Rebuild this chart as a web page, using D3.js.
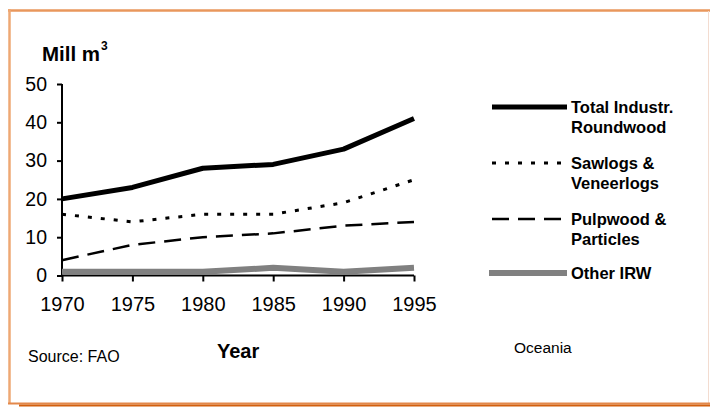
<!DOCTYPE html>
<html>
<head>
<meta charset="utf-8">
<script src="https://cdn.jsdelivr.net/npm/d3@7"></script>
<style>
  html, body { margin: 0; padding: 0; background: #fff; }
  svg { display: block; font-family: "Liberation Sans", Arial, sans-serif; }
</style>
</head>
<body>
<svg id="chart" width="710" height="407"></svg>
<script>
// ---- data ----
const years = [1970, 1975, 1980, 1985, 1990, 1995];
const totalIndustrial = [20, 23, 28, 29, 33, 41];
const sawlogs = [16, 14, 16, 16, 19, 25];
const pulpwood = [4, 8, 10, 11, 13, 14];
const otherIRW = [1, 1, 1, 2, 1, 2];
const yTicks = [0, 10, 20, 30, 40, 50];
const seriesNames = [["Total Industr.", "Roundwood"], ["Sawlogs &", "Veneerlogs"], ["Pulpwood &", "Particles"], ["Other IRW"]];

const svg = d3.select("#chart");

// frame
svg.append("rect").attr("x", 9).attr("y", 10).attr("width", 699).attr("height", 393)
  .attr("fill", "#fff").attr("stroke", "none");
svg.append("line").attr("x1", 8).attr("x2", 710).attr("y1", 10.5).attr("y2", 10.5)
  .attr("stroke", "#e9975c").attr("stroke-width", 2.5);
svg.append("line").attr("x1", 9.5).attr("x2", 9.5).attr("y1", 9).attr("y2", 404)
  .attr("stroke", "#eea874").attr("stroke-width", 2.5);
svg.append("line").attr("x1", 708.5).attr("x2", 708.5).attr("y1", 11).attr("y2", 404)
  .attr("stroke", "#f3dcd0").attr("stroke-width", 1);
svg.append("line").attr("x1", 8).attr("x2", 710).attr("y1", 403.5).attr("y2", 403.5)
  .attr("stroke", "#e3884a").attr("stroke-width", 2);
svg.append("line").attr("x1", 19).attr("x2", 710).attr("y1", 405.5).attr("y2", 405.5)
  .attr("stroke", "#d2600e").attr("stroke-width", 2);

// scales
const x = d3.scaleLinear().domain([1970, 1995]).range([62, 414]);
const y = d3.scaleLinear().domain([0, 50]).range([275.5, 84]);

// axes
const xAxis = d3.axisBottom(x).tickValues(years).tickFormat(d3.format("d")).tickSize(6).tickPadding(15);
const yAxis = d3.axisLeft(y).tickValues(yTicks).tickSize(5).tickPadding(10);

const gx = svg.append("g").attr("transform", `translate(0,${y(0)})`).call(xAxis);
const gy = svg.append("g").attr("transform", `translate(${x(1970)},0)`).call(yAxis);
[gx, gy].forEach(g => {
  g.select(".domain").attr("stroke", "#000").attr("stroke-width", 2);
  g.selectAll(".tick line").attr("stroke", "#000").attr("stroke-width", 2);
  g.selectAll("text").attr("fill", "#000").attr("font-family", "Liberation Sans, Arial, sans-serif");
});
gx.selectAll("text").attr("font-size", 20);
gy.selectAll("text").attr("font-size", 19.5);
gx.select(".domain").attr("d", `M${x(1970)},0H${x(1995)}`);
gy.select(".domain").attr("d", `M0,${y(50)}V${y(0)}`);

// series
const series = [
  { vals: totalIndustrial, stroke: "#000", width: 5, dash: null },
  { vals: sawlogs, stroke: "#000", width: 3, dash: "4,9" },
  { vals: pulpwood, stroke: "#000", width: 2.5, dash: "17,9" },
  { vals: otherIRW, stroke: "#808080", width: 6, dash: null }
];
const line = d3.line().x((d, i) => x(years[i])).y(d => y(d));

// draw gray first so black lines sit over
[3, 2, 1, 0].forEach(k => {
  const s = series[k];
  svg.append("path").datum(s.vals).attr("d", line)
    .attr("fill", "none").attr("stroke", s.stroke).attr("stroke-width", s.width)
    .attr("stroke-dasharray", s.dash).attr("stroke-linejoin", "round");
});

// legend
const legendY = [107, 163, 219, 273];
series.forEach((s, k) => {
  const g = svg.append("g");
  g.append("line").attr("x1", k === 3 ? 489 : 492).attr("x2", 567)
    .attr("y1", legendY[k]).attr("y2", legendY[k])
    .attr("stroke", s.stroke).attr("stroke-width", s.width)
    .attr("stroke-dasharray", s.dash);
  const t = g.append("text").attr("x", 571).attr("y", legendY[k] + 6)
    .attr("font-size", 16.5).attr("font-weight", "bold").attr("fill", "#000");
  seriesNames[k].forEach((name, j) => {
    t.append("tspan").attr("x", 571).attr("dy", j === 0 ? 0 : 20).text(name);
  });
});

// titles
const ttl = svg.append("text").attr("x", 42).attr("y", 61)
  .attr("font-size", 20.5).attr("font-weight", "bold").attr("fill", "#000");
ttl.append("tspan").text("Mill m");
ttl.append("tspan").attr("font-size", 12).attr("dy", -11).attr("dx", 1).text("3");

svg.append("text").attr("x", 217).attr("y", 358).attr("font-size", 20)
  .attr("font-weight", "bold").attr("fill", "#000").text("Year");
svg.append("text").attr("x", 28).attr("y", 362).attr("font-size", 16)
  .attr("fill", "#000").text("Source: FAO");
svg.append("text").attr("x", 514).attr("y", 353).attr("font-size", 15.5)
  .attr("fill", "#000").text("Oceania");
</script>
</body>
</html>
